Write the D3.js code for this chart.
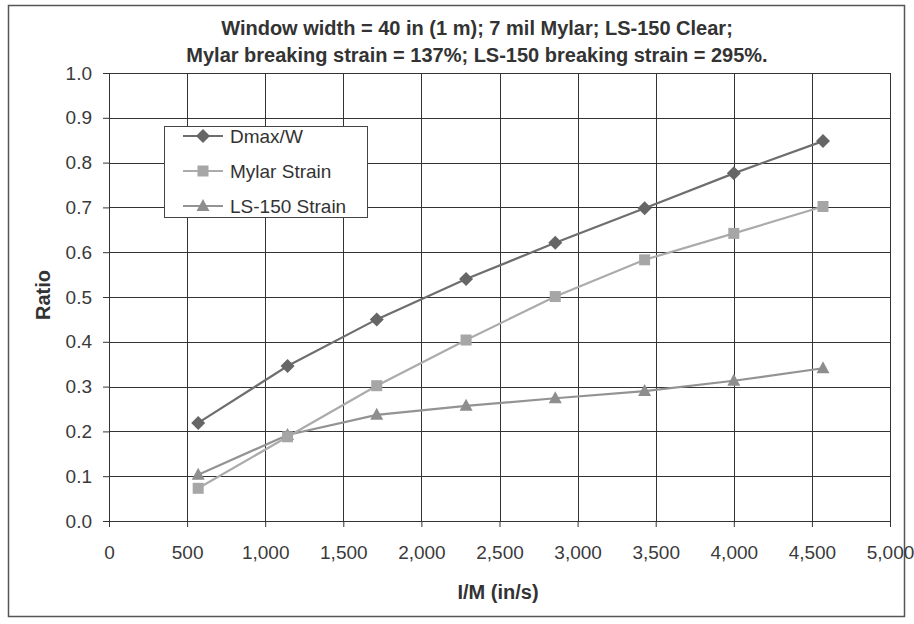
<!DOCTYPE html>
<html><head><meta charset="utf-8">
<script src="https://cdn.jsdelivr.net/npm/d3@7"></script>
<style>body{margin:0;background:#fff;}svg{display:block;font-family:"Liberation Sans",Arial,sans-serif;}</style>
</head><body>
<svg id="c" width="914" height="624"></svg>
<script>
const xValues = [571, 1143, 1714, 2286, 2857, 3429, 4000, 4571];
const dmaxW = [0.219, 0.346, 0.450, 0.540, 0.621, 0.698, 0.776, 0.848];
const mylarStrain = [0.073, 0.188, 0.302, 0.404, 0.501, 0.583, 0.642, 0.702];
const ls150Strain = [0.103, 0.192, 0.237, 0.257, 0.274, 0.290, 0.313, 0.341];
const seriesNames = ["Dmax/W", "Mylar Strain", "LS-150 Strain"];
const xTicks = [0, 500, 1000, 1500, 2000, 2500, 3000, 3500, 4000, 4500, 5000];
const yTicks = [0, 0.1, 0.2, 0.3, 0.4, 0.5, 0.6, 0.7, 0.8, 0.9, 1.0];
const titleLines = ["Window width = 40 in (1 m); 7 mil Mylar; LS-150 Clear;",
                    "Mylar breaking strain = 137%; LS-150 breaking strain = 295%."];

const svg = d3.select("#c");
const L = 109, R = 890, T = 73, B = 521;
const x = d3.scaleLinear().domain([0, 5000]).range([L, R]);
const y = d3.scaleLinear().domain([0, 1]).range([B, T]);

// outer frame
svg.append("rect").attr("x", 8.5).attr("y", 5.5).attr("width", 896).attr("height", 611)
  .attr("fill", "#fff").attr("stroke", "#555").attr("stroke-width", 1.5);

// grid
const g = svg.append("g");
g.selectAll(".hg").data(yTicks).join("line")
  .attr("x1", L).attr("x2", R).attr("y1", d => Math.round(y(d)) + 0.5).attr("y2", d => Math.round(y(d)) + 0.5)
  .attr("stroke", "#333").attr("stroke-width", 1);
g.selectAll(".vg").data(xTicks).join("line")
  .attr("y1", T).attr("y2", B).attr("x1", d => Math.round(x(d)) + 0.5).attr("x2", d => Math.round(x(d)) + 0.5)
  .attr("stroke", "#333").attr("stroke-width", 1);

// axes
const xAxis = d3.axisBottom(x).tickValues(xTicks).tickSize(6).tickPadding(19)
  .tickFormat(d3.format(","));
const yAxis = d3.axisLeft(y).tickValues(yTicks).tickSize(6).tickPadding(11)
  .tickFormat(d3.format(".1f"));
const xa = svg.append("g").attr("transform", `translate(0,${B})`).call(xAxis);
const ya = svg.append("g").attr("transform", `translate(${L},0)`).call(yAxis);
[xa, ya].forEach(a => {
  a.select(".domain").attr("stroke", "#333");
  a.selectAll(".tick line").attr("stroke", "#333");
  a.selectAll("text").attr("font-size", 19).attr("fill", "#3a3a3a").attr("font-family", "Liberation Sans, Arial, sans-serif");
});

// series
const series = [
  {name: seriesNames[0], vals: dmaxW, color: "#6e6e6e", mcolor: "#666", sym: "diamond"},
  {name: seriesNames[1], vals: mylarStrain, color: "#ababab", mcolor: "#a6a6a6", sym: "square"},
  {name: seriesNames[2], vals: ls150Strain, color: "#939393", mcolor: "#8e8e8e", sym: "triangle"}
];
function marker(sel, sym, color) {
  if (sym === "diamond") sel.append("path").attr("d", "M0,-7L7,0L0,7L-7,0Z").attr("fill", color);
  else if (sym === "square") sel.append("rect").attr("x", -5.5).attr("y", -5.5).attr("width", 11).attr("height", 11).attr("fill", color);
  else sel.append("path").attr("d", "M0,-7L6.5,5L-6.5,5Z").attr("fill", color);
}
const line = d3.line().x((d, i) => x(xValues[i])).y(d => y(d));
series.slice().reverse().forEach(s => {
  svg.append("path").datum(s.vals).attr("d", line).attr("fill", "none")
    .attr("stroke", s.color).attr("stroke-width", 2.2);
  s.vals.forEach((v, i) => {
    const m = svg.append("g").attr("transform", `translate(${x(xValues[i])},${y(v)})`);
    marker(m, s.sym, s.mcolor);
  });
});

// legend
const lg = svg.append("g");
lg.append("rect").attr("x", 164.5).attr("y", 126.5).attr("width", 203).attr("height", 91)
  .attr("fill", "#fff").attr("stroke", "#444").attr("stroke-width", 1);
series.forEach((s, i) => {
  const yy = 136 + i * 35;
  lg.append("line").attr("x1", 183).attr("x2", 223).attr("y1", yy).attr("y2", yy)
    .attr("stroke", s.color).attr("stroke-width", 2.2);
  const m = lg.append("g").attr("transform", `translate(203,${yy})`);
  marker(m, s.sym, s.mcolor);
  lg.append("text").attr("x", 230).attr("y", yy).attr("dy", "0.35em")
    .attr("font-size", 19).attr("fill", "#333").text(s.name);
});

// titles
svg.selectAll(".tt").data(titleLines).join("text")
  .attr("x", 477).attr("y", (d, i) => 28 + i * 27).attr("dy", "0.35em")
  .attr("text-anchor", "middle").attr("font-size", 20).attr("font-weight", "bold")
  .attr("fill", "#333").text(d => d);
svg.append("text").attr("x", 498).attr("y", 592).attr("dy", "0.35em")
  .attr("text-anchor", "middle").attr("font-size", 20).attr("font-weight", "bold")
  .attr("fill", "#333").text("I/M (in/s)");
svg.append("text").attr("transform", "translate(43,295) rotate(-90)").attr("dy", "0.35em")
  .attr("text-anchor", "middle").attr("font-size", 20).attr("font-weight", "bold")
  .attr("fill", "#333").text("Ratio");
</script>
</body></html>
